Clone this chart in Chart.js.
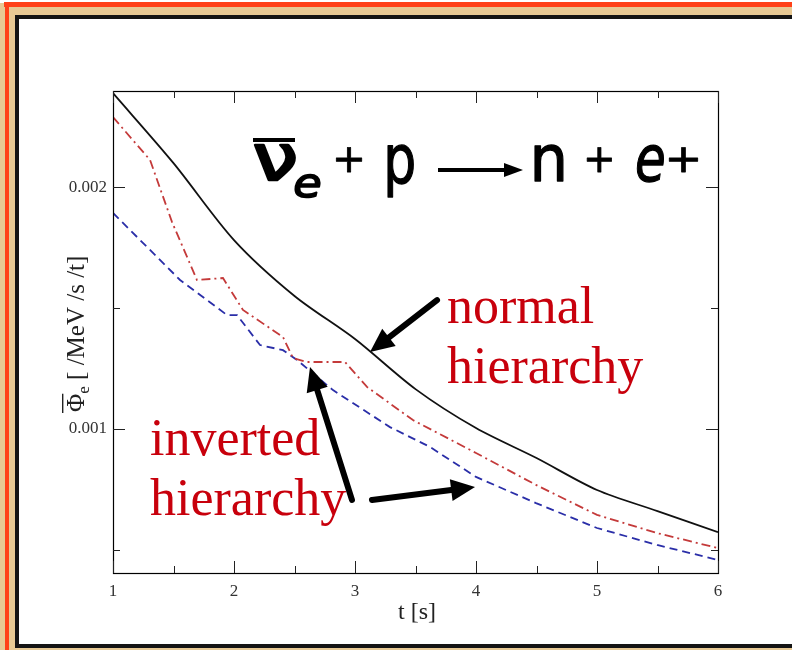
<!DOCTYPE html>
<html>
<head>
<meta charset="utf-8">
<script src="https://cdn.jsdelivr.net/npm/chart.js@4.4.1/dist/chart.umd.min.js"></script>
<style>
  html, body { margin: 0; padding: 0; background: #fff; }
  #wrap { position: relative; width: 792px; height: 650px; }
  canvas { display: block; }
</style>
</head>
<body>
<div id="wrap"><canvas id="c" width="792" height="650"></canvas></div>
<script>
// Time grid and flux for the normal hierarchy (solid curve)
const tNormal   = [1, 1.5, 2, 2.5, 3, 3.5, 4, 4.5, 5, 5.5, 6];
const phiNormal = [0.002388, 0.002099, 0.001781, 0.001550, 0.001372, 0.001165,
                   0.001004, 0.000880, 0.000748, 0.000661, 0.000574];

// Inverted hierarchy, dash-dot curve
const tInvA   = [1, 1.306, 1.488, 1.694, 1.909, 2.074, 2.405, 2.488, 2.603, 2.917,
                 3.099, 3.479, 4, 4.496, 5, 5.496, 6];
const phiInvA = [0.002289, 0.002112, 0.001855, 0.001616, 0.001624, 0.001492, 0.001380,
                 0.001293, 0.001277, 0.001277, 0.001174, 0.001037, 0.000901, 0.000769,
                 0.000645, 0.000570, 0.000508];

// Inverted hierarchy, dashed curve
const tInvB   = [1, 1.554, 1.942, 2.025, 2.215, 2.405, 2.521, 2.818, 3.289, 3.620,
                 4, 4.496, 5, 5.496, 6];
const phiInvB = [0.001893, 0.001616, 0.001471, 0.001471, 0.001347, 0.001326, 0.001285,
                 0.001161, 0.001008, 0.000926, 0.000802, 0.000694, 0.000591, 0.000521,
                 0.000459];

// Axis ticks
const xTickValues   = [1, 2, 3, 4, 5, 6];
const xMinorValues  = [1.5, 2.5, 3.5, 4.5, 5.5];
const yTickValues   = [0.001, 0.002];
const yMinorValues  = [0.0005, 0.0015];

const toPoints = (ts, vs) => ts.map((t, i) => ({ x: t, y: vs[i] }));

// Arrow tips/tails in data coordinates
const arrows = [
  { from: [3.678, 0.001533], to: [3.124, 0.001318] },
  { from: [2.975, 0.000707], to: [2.628, 0.001256] },
  { from: [3.140, 0.000707], to: [3.992, 0.000760] }
];

// Draws text scaled so its ink fills the given box; optional outline thickens the strokes
function drawInBox(ctx, text, font, x0, y0, x1, y1, thicken) {
  ctx.save();
  ctx.font = font;
  ctx.textAlign = 'left';
  ctx.textBaseline = 'alphabetic';
  const m = ctx.measureText(text);
  const w = m.actualBoundingBoxLeft + m.actualBoundingBoxRight;
  const h = m.actualBoundingBoxAscent + m.actualBoundingBoxDescent;
  ctx.translate(x0, y0);
  ctx.scale((x1 - x0) / w, (y1 - y0) / h);
  ctx.fillText(text, m.actualBoundingBoxLeft, m.actualBoundingBoxAscent);
  if (thicken) {
    ctx.lineWidth = thicken;
    ctx.lineJoin = 'round';
    ctx.strokeStyle = ctx.fillStyle;
    ctx.strokeText(text, m.actualBoundingBoxLeft, m.actualBoundingBoxAscent);
  }
  ctx.restore();
}

function drawArrow(ctx, x1, y1, x2, y2, lw, headLen, headW) {
  const a = Math.atan2(y2 - y1, x2 - x1);
  const bx = x2 - headLen * Math.cos(a), by = y2 - headLen * Math.sin(a);
  ctx.save();
  ctx.strokeStyle = '#000';
  ctx.fillStyle = '#000';
  ctx.lineWidth = lw;
  ctx.lineCap = 'round';
  ctx.beginPath();
  ctx.moveTo(x1, y1);
  ctx.lineTo(bx + 2 * Math.cos(a), by + 2 * Math.sin(a));
  ctx.stroke();
  ctx.beginPath();
  ctx.moveTo(x2, y2);
  ctx.lineTo(bx + headW / 2 * Math.sin(a), by - headW / 2 * Math.cos(a));
  ctx.lineTo(bx - headW / 2 * Math.sin(a), by + headW / 2 * Math.cos(a));
  ctx.closePath();
  ctx.fill();
  ctx.restore();
}

const framePlugin = {
  id: 'frame',
  beforeDraw(chart) {
    const ctx = chart.ctx;
    ctx.save();
    ctx.fillStyle = '#ffffff';
    ctx.fillRect(0, 0, 792, 650);
    ctx.fillStyle = '#e7c994';
    ctx.fillRect(0, 3, 792, 647);
    ctx.fillStyle = '#ff4118';
    ctx.fillRect(4, 2, 788, 5);
    ctx.fillRect(5, 2, 4, 648);
    ctx.fillStyle = '#141414';
    ctx.fillRect(15, 15, 800, 633);
    ctx.fillStyle = '#ffffff';
    ctx.fillRect(19, 19, 800, 625);
    ctx.restore();
  }
};

const decorPlugin = {
  id: 'decor',
  afterDraw(chart) {
    const ctx = chart.ctx;
    const { left, right, top, bottom } = chart.chartArea;
    const xs = chart.scales.x, ys = chart.scales.y;
    ctx.save();
    // plot box
    ctx.strokeStyle = '#000';
    ctx.lineWidth = 1.2;
    ctx.strokeRect(left + 0.5, top + 0.5, right - left, bottom - top);
    // inward ticks on all four sides
    ctx.lineWidth = 1;
    ctx.strokeStyle = '#222';
    const tickX = (v, len) => {
      const px = Math.round(xs.getPixelForValue(v)) + 0.5;
      ctx.beginPath();
      ctx.moveTo(px, bottom); ctx.lineTo(px, bottom - len);
      ctx.moveTo(px, top); ctx.lineTo(px, top + len);
      ctx.stroke();
    };
    const tickY = (v, len) => {
      const py = Math.round(ys.getPixelForValue(v)) + 0.5;
      ctx.beginPath();
      ctx.moveTo(left, py); ctx.lineTo(left + len, py);
      ctx.moveTo(right, py); ctx.lineTo(right - len, py);
      ctx.stroke();
    };
    xTickValues.forEach(v => tickX(v, 12));
    xMinorValues.forEach(v => tickX(v, 7));
    yTickValues.forEach(v => tickY(v, 12));
    yMinorValues.forEach(v => tickY(v, 7));

    // y axis title:  overline-Phi_e [ /MeV /s /t]
    ctx.save();
    ctx.translate(84, 412);
    ctx.rotate(-Math.PI / 2);
    ctx.fillStyle = '#222';
    ctx.textBaseline = 'alphabetic';
    ctx.font = '25px "Liberation Serif"';
    let x = 0;
    ctx.fillText('\u03A6', x, 0);
    const phiW = ctx.measureText('\u03A6').width;
    ctx.fillRect(x - 1, -22, phiW + 1, 1.4);
    x += phiW;
    ctx.font = '17px "Liberation Serif"';
    ctx.fillText('e', x, 5);
    x += ctx.measureText('e').width;
    ctx.font = '25px "Liberation Serif"';
    ctx.fillText(' [ /MeV /s /t]', x, 0);
    ctx.restore();

    // x axis title
    ctx.fillStyle = '#222';
    ctx.font = '24px "Liberation Serif"';
    ctx.textAlign = 'center';
    ctx.textBaseline = 'alphabetic';
    ctx.fillText('t [s]', 417, 619);

    // reaction equation
    ctx.fillStyle = '#000';
    const eqFont = '100px "DejaVu Sans"';
    const eqItal = 'oblique 100px "DejaVu Sans"';
    ctx.fillRect(253, 138, 42, 4);                       // bar over nu
    drawInBox(ctx, '\u03BD', eqFont, 255, 145, 295, 180, 4);
    drawInBox(ctx, 'e', eqItal, 295, 173, 320, 197, 4);
    drawInBox(ctx, '+', eqFont, 336, 147, 362, 172, 2);
    drawInBox(ctx, 'p', eqFont, 388, 145, 414, 197, 2);
    ctx.fillRect(438, 168, 70, 4);                        // reaction arrow
    ctx.beginPath();
    ctx.moveTo(523, 170); ctx.lineTo(504, 163); ctx.lineTo(504, 177); ctx.closePath();
    ctx.fill();
    drawInBox(ctx, 'n', eqFont, 535, 145, 563, 181, 2);
    drawInBox(ctx, '+', eqFont, 587, 147, 612, 172, 2);
    drawInBox(ctx, 'e', eqItal, 637, 145, 664, 182, 2);
    drawInBox(ctx, '+', eqFont, 669, 147, 698, 172, 2);

    // red annotations
    ctx.fillStyle = '#c8000c';
    ctx.font = '52px "Liberation Serif"';
    ctx.textAlign = 'left';
    ctx.fillText('normal', 447, 323);
    ctx.fillText('hierarchy', 447, 383);
    ctx.fillText('inverted', 150, 455);
    ctx.fillText('hierarchy', 150, 515);

    // pointer arrows
    arrows.forEach(a => {
      drawArrow(ctx,
        xs.getPixelForValue(a.from[0]), ys.getPixelForValue(a.from[1]),
        xs.getPixelForValue(a.to[0]), ys.getPixelForValue(a.to[1]),
        6, 24, 22);
    });
    ctx.restore();
  }
};

new Chart(document.getElementById('c'), {
  type: 'scatter',
  data: {
    datasets: [
      {
        label: 'normal hierarchy',
        data: toPoints(tNormal, phiNormal),
        showLine: true, borderColor: '#111', borderWidth: 1.8,
        pointRadius: 0, tension: 0.3, fill: false
      },
      {
        label: 'inverted hierarchy (dash-dot)',
        data: toPoints(tInvA, phiInvA),
        showLine: true, borderColor: '#c43a3a', borderWidth: 1.8,
        borderDash: [9, 4, 2, 4],
        pointRadius: 0, tension: 0, fill: false
      },
      {
        label: 'inverted hierarchy (dashed)',
        data: toPoints(tInvB, phiInvB),
        showLine: true, borderColor: '#2a2ea8', borderWidth: 1.8,
        borderDash: [8, 5],
        pointRadius: 0, tension: 0, fill: false
      }
    ]
  },
  options: {
    responsive: false,
    animation: false,
    devicePixelRatio: 1,
    layout: { padding: { left: 0, top: 91, right: 74, bottom: 0 } },
    plugins: { legend: { display: false }, tooltip: { enabled: false } },
    scales: {
      x: {
        type: 'linear', min: 1, max: 6,
        afterFit(scale) { scale.height = 77; },
        afterBuildTicks(scale) { scale.ticks = xTickValues.map(v => ({ value: v })); },
        grid: { display: false, drawTicks: false },
        border: { display: true, color: '#000', width: 1 },
        ticks: {
          padding: 8, color: '#333',
          font: { family: 'Liberation Serif', size: 17 },
          callback: v => String(v)
        }
      },
      y: {
        type: 'linear', min: 0.000405, max: 0.002397,
        afterFit(scale) { scale.width = 113; },
        afterBuildTicks(scale) { scale.ticks = yTickValues.map(v => ({ value: v })); },
        grid: { display: false, drawTicks: false },
        border: { display: true, color: '#000', width: 1 },
        ticks: {
          padding: 6, color: '#333',
          font: { family: 'Liberation Serif', size: 17 },
          callback: v => v.toFixed(3)
        }
      }
    }
  },
  plugins: [framePlugin, decorPlugin]
});
</script>
</body>
</html>
